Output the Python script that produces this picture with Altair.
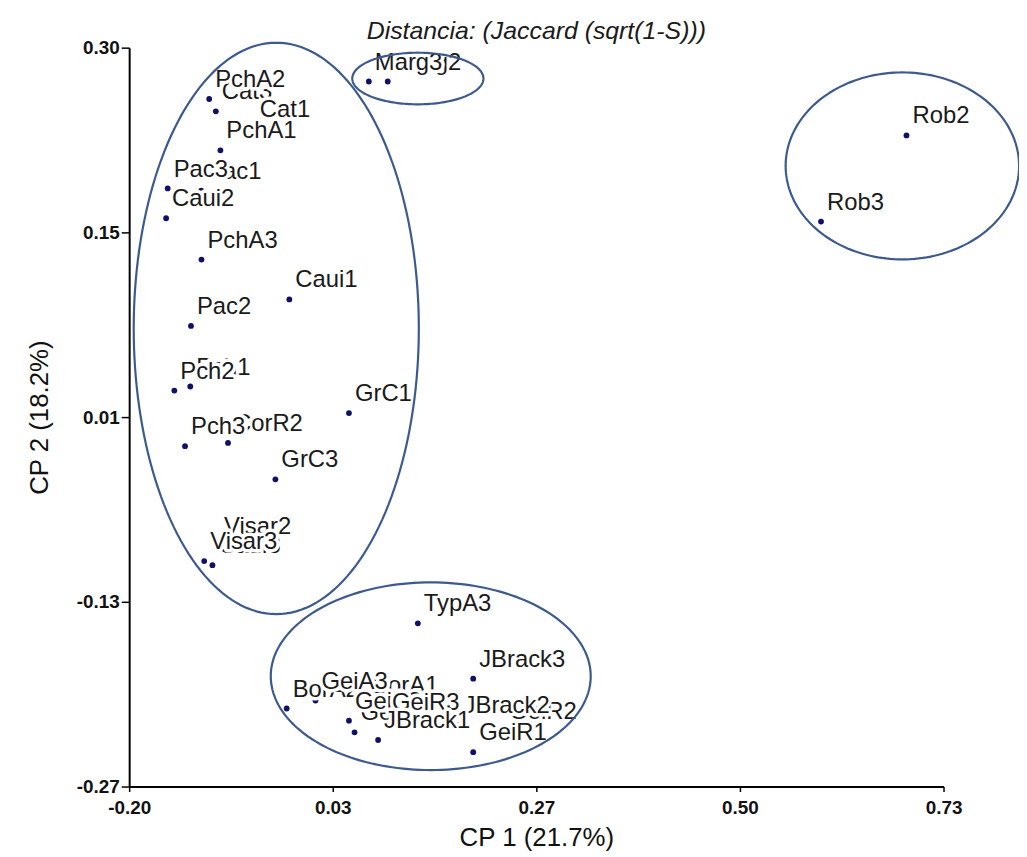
import altair as alt
import pandas as pd
import numpy as np

# ---- data, in the order the labels are drawn ----
names = ["Cat3", "Cat1", "PchA2", "PchA1", "Pac1", "Pac3", "Caui2", "PchA3",
         "Caui1", "Pac2", "Pch1", "Pch2", "CorR2", "Pch3", "GrC1", "GrC3",
         "Caui3", "Visar2", "Visar3",
         "Marg2", "Marg3", "Rob2", "Rob3",
         "TypA3", "JBrack3", "GeiR2", "GeiA1", "BorA2", "BorA1", "GeiA3",
         "GeiA2", "GeiR3", "JBrack2", "JBrack1", "GeiR1"]
cp1 = [-0.1010, -0.0576, -0.1086, -0.0958, -0.1177, -0.1560, -0.1578, -0.1174,
       -0.0171, -0.1294, -0.1302, -0.1484, -0.0871, -0.1362, 0.0510, -0.0330,
       -0.1049, -0.0984, -0.1143,
       0.0953, 0.0737, 0.6877, 0.5901,
       0.1297, 0.1929, 0.2273, 0.0574, -0.0201, 0.0707, 0.0128,
       0.0510, 0.0933, 0.1751, 0.0843, 0.1929]
cp2 = [0.2509, 0.2371, 0.2604, 0.2208, 0.1896, 0.1914, 0.1684, 0.1365,
       0.1058, 0.0853, 0.0386, 0.0355, -0.0049, -0.0074, 0.0181, -0.0330,
       -0.0992, -0.0841, -0.0961,
       0.2739, 0.2739, 0.2323, 0.1658,
       -0.1441, -0.1868, -0.2274, -0.2282, -0.2098, -0.2067, -0.2037,
       -0.2192, -0.2205, -0.2228, -0.2341, -0.2435]

# group ellipses (centre and half-axes in data units)
ell_group = ["izquierda", "marg", "rob", "inferior"]
ell_cx = [-0.0320, 0.1297, 0.6830, 0.1444]
ell_cy = [0.0834, 0.2762, 0.2088, -0.1849]
ell_rx = [0.1628, 0.0749, 0.1333, 0.1827]
ell_ry = [0.2204, 0.0199, 0.0721, 0.0724]

x_ticks = [-0.20, 0.0325, 0.265, 0.4975, 0.73]
x_tick_labels = ["-0.20", "0.03", "0.27", "0.50", "0.73"]
y_ticks = [0.30, 0.1575, 0.015, -0.1275, -0.27]
y_tick_labels = ["0.30", "0.15", "0.01", "-0.13", "-0.27"]

title_text = "Distancia: (Jaccard (sqrt(1-S)))"
x_title = "CP 1 (21.7%)"
y_title = "CP 2 (18.2%)"

FONT = "Liberation Sans"
DOT = "#10106A"
ELL = "#3D5A8E"

pts = pd.DataFrame({"name": names, "cp1": cp1, "cp2": cp2,
                    "k": list(range(len(names)))})

rows = []
t = np.linspace(0, 2 * np.pi, 181)
for g, cx, cy, rx, ry in zip(ell_group, ell_cx, ell_cy, ell_rx, ell_ry):
    for i, tt in enumerate(t):
        rows.append({"g": g, "o": i, "cp1": cx + rx * np.cos(tt), "cp2": cy + ry * np.sin(tt)})
ell = pd.DataFrame(rows)


def label_expr(vals, labs):
    expr = "''"
    for v, l in reversed(list(zip(vals, labs))):
        expr = f"abs(datum.value - ({v})) < 1e-6 ? '{l}' : ({expr})"
    return expr


xs = alt.Scale(domain=[-0.20, 0.73], nice=False, zero=False)
ys = alt.Scale(domain=[-0.27, 0.30], nice=False, zero=False)

x_axis = alt.Axis(values=x_ticks, labelExpr=label_expr(x_ticks, x_tick_labels),
                  grid=False, domainColor="black", domainWidth=2, tickColor="black",
                  tickWidth=1.5, tickSize=5, labelFont=FONT, labelFontWeight="bold",
                  labelFontSize=19, labelColor="#111", labelPadding=7,
                  labelFlush=False, labelOverlap=False,
                  title=x_title, titleFont=FONT, titleFontSize=26, titleFontWeight="normal",
                  titleColor="#111", titleX=410, titleY=51, titleAlign="center",
                  titleBaseline="middle")
y_axis = alt.Axis(values=y_ticks, labelExpr=label_expr(y_ticks, y_tick_labels),
                  grid=False, domainColor="black", domainWidth=2, tickColor="black",
                  tickWidth=1.5, tickSize=8, labelFont=FONT, labelFontWeight="bold",
                  labelFontSize=19, labelColor="#111", labelPadding=2,
                  labelFlush=False, labelOverlap=False,
                  title=y_title, titleFont=FONT, titleFontSize=26, titleFontWeight="normal",
                  titleColor="#111", titleX=-90, titleY=372, titleAngle=270,
                  titleAlign="center", titleBaseline="middle")

X = alt.X("cp1:Q", scale=xs, axis=x_axis)
Y = alt.Y("cp2:Q", scale=ys, axis=y_axis)

dots = alt.Chart(pts).mark_circle(color=DOT, size=34, opacity=1, clip=False).encode(
    x=X, y=Y,
)

layers = [dots]
txt_kw = dict(align="left", baseline="middle", dx=6, dy=-19, font=FONT,
              fontSize=24, clip=False)
for k in range(len(names)):
    base = alt.Chart(pts).transform_filter(alt.datum.k == k)
    halo = base.mark_text(color="white", stroke="white", strokeWidth=7,
                          strokeJoin="round", **txt_kw).encode(
        x=alt.X("cp1:Q", scale=xs), y=alt.Y("cp2:Q", scale=ys), text="name:N")
    fill = base.mark_text(color="#1a1a1a", **txt_kw).encode(
        x=alt.X("cp1:Q", scale=xs), y=alt.Y("cp2:Q", scale=ys), text="name:N")
    layers += [halo, fill]

ellipses = alt.Chart(ell).mark_line(color=ELL, strokeWidth=2.2, clip=False).encode(
    x=alt.X("cp1:Q", scale=xs), y=alt.Y("cp2:Q", scale=ys),
    detail="g:N",
    order="o:Q",
)
layers.append(ellipses)

chart = alt.layer(*layers).properties(
    width=820,
    height=744,
    padding={"left": 122, "top": 37, "right": 76, "bottom": 66},
    autosize=alt.AutoSizeParams(type="none"),
    background="white",
    title=alt.TitleParams(title_text, font=FONT, fontSize=25, fontStyle="italic",
                          fontWeight="normal", color="#1a1a1a", anchor="middle",
                          offset=2, dy=8),
).configure_view(strokeWidth=0)

chart.save("out.html", embed_options={"renderer": "svg", "actions": False})
